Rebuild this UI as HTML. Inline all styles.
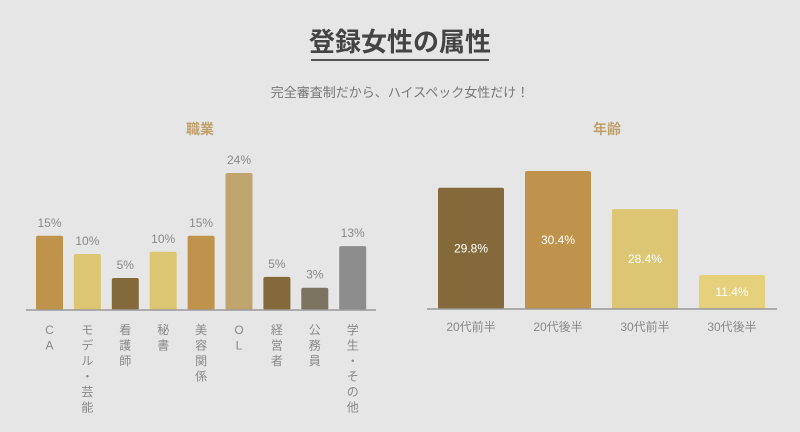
<!DOCTYPE html>
<html><head><meta charset="utf-8"><style>
body{margin:0;background:#e6e6e6;width:800px;height:432px;overflow:hidden;font-family:"Liberation Sans","Noto Sans CJK JP",sans-serif}
</style></head><body>
<svg width="800" height="432" style="position:absolute;left:0;top:0">
<rect width="800" height="432" fill="#e6e6e6"/>
<text x="400" y="51" text-anchor="middle" font-size="26" font-weight="bold" fill="#444" font-family="Liberation Sans, Noto Sans CJK JP, sans-serif">登録女性の属性</text>
<rect x="311" y="59" width="178" height="2" fill="#555"/>
<text x="400" y="97" text-anchor="middle" font-size="13" fill="#777" font-family="Liberation Sans, Noto Sans CJK JP, sans-serif">完全審査制だから、ハイスペック女性だけ！</text>
<text x="200" y="134" text-anchor="middle" font-size="14" font-weight="bold" fill="#c0a06a" font-family="Liberation Sans, Noto Sans CJK JP, sans-serif">職業</text>
<text x="607" y="134" text-anchor="middle" font-size="14" font-weight="bold" fill="#c0a06a" font-family="Liberation Sans, Noto Sans CJK JP, sans-serif">年齢</text>
<g id="left"></g><g id="right"></g>
</svg>
<script>
const jobCategories=["CA","モデル・芸能","看護師","秘書","美容関係","OL","経営者","公務員","学生・その他"];
const jobValues=[13,9.8,5.6,10.2,13,24,5.8,3.9,11.2];
const jobLabels=["15%","10%","5%","10%","15%","24%","5%","3%","13%"];
const jobColors=["#c0934c","#dcc673","#846a3a","#dcc673","#c0934c","#c0a56e","#846a3a","#7c7360","#8c8c8c"];
const ageCategories=["20代前半","20代後半","30代前半","30代後半"];
const ageValues=[26.7,30.4,22,7.5];
const ageLabels=["29.8%","30.4%","28.4%","11.4%"];
const ageColors=["#846a3a","#c0934c","#dcc673","#e5d07c"];
const NS="http://www.w3.org/2000/svg";
const FF="Liberation Sans, Noto Sans CJK JP, sans-serif";
function mk(t,a,p){const e=document.createElementNS(NS,t);for(const k in a)e.setAttribute(k,a[k]);p.appendChild(e);return e;}
// left chart
const L=document.getElementById('left');
const lBase=310, lScale=137/24;
const lx=i=>36+i*37.9, lw=27;
const ly=v=>lBase-v*lScale;
jobValues.forEach((v,i)=>{
 const r=mk('rect',{x:lx(i),y:ly(v),width:lw,height:lBase-ly(v),rx:2,fill:jobColors[i]},L);
 
 
 const t=mk('text',{x:lx(i)+lw/2,y:ly(v)-9,'text-anchor':'middle','font-size':12,fill:'#888','font-family':FF},L);
 t.textContent=jobLabels[i];
 
 
 const c=mk('text',{x:lx(i)+lw/2,y:334,'text-anchor':'middle','font-size':12,fill:'#888','font-family':FF},L);
 
 
 [...jobCategories[i]].forEach((ch,k)=>{const s=mk('tspan',{x:lx(i)+lw/2,dy:k?15.5:0},c);s.textContent=ch;});
});
const la=mk('line',{x1:26,x2:376,y1:lBase,y2:lBase,stroke:'#999','stroke-width':1.5},L);


// right chart
const R=document.getElementById('right');
const rBase=309, rScale=138/30.4;
const rx=i=>438+i*87, rw=66;
const ry=v=>rBase-v*rScale;
ageValues.forEach((v,i)=>{
 const r=mk('rect',{x:rx(i),y:ry(v),width:rw,height:rBase-ry(v),rx:2,fill:ageColors[i]},R);
 
 
 const t=mk('text',{x:rx(i)+rw/2,y:(ry(v)+rBase)/2+4,'text-anchor':'middle','font-size':12,fill:'#fff','font-family':FF},R);
 t.textContent=ageLabels[i];
 
 
 const c=mk('text',{x:rx(i)+rw/2,y:331,'text-anchor':'middle','font-size':12,fill:'#888','font-family':FF},R);
 c.textContent=ageCategories[i];
 
 
});
const ra=mk('line',{x1:427,x2:777,y1:rBase,y2:rBase,stroke:'#999','stroke-width':1.5},R);


</script>
</body></html>
